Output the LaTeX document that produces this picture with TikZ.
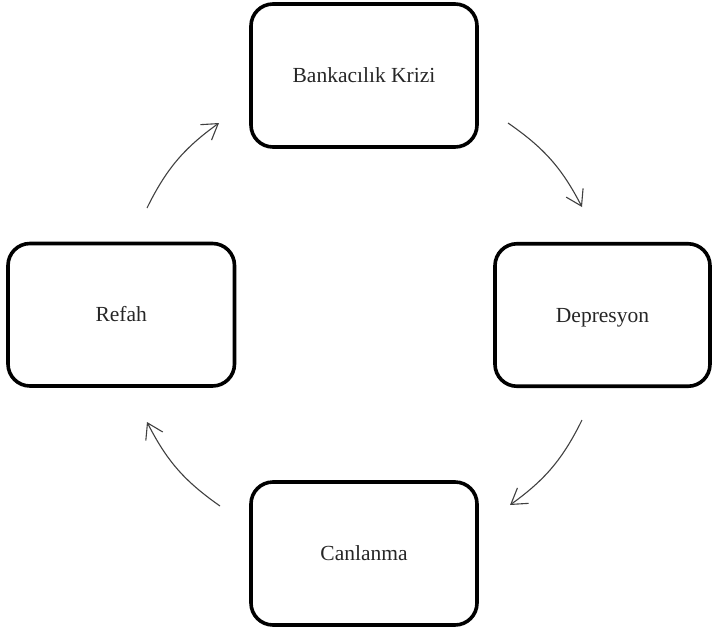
\documentclass[tikz,border=0pt]{standalone}
\usepackage{fontspec}
\setmainfont{Liberation Serif}
\usetikzlibrary{arrows.meta}
\begin{document}
\begin{tikzpicture}[x=1pt,y=1pt,
  stagebox/.style={draw=black, line width=3.6pt, rounded corners=22pt,
    inner sep=0pt, align=center, text height=14pt, text depth=0pt,
    font=\fontsize{21.5}{25}\selectfont, text=black!85},
  cyclearrow/.style={draw=black!75, line width=1.1pt,
    -{Straight Barb[length=15pt,width=19pt,line width=1.1pt]}}]
\useasboundingbox (0,0) rectangle (713,-630);
\node[stagebox, minimum width=226pt, minimum height=143pt] (bank) at (364,-75.5) {Bankacılık Krizi};
\node[stagebox, minimum width=215pt, minimum height=142.5pt] (dep) at (602.5,-315) {Depresyon};
\node[stagebox, minimum width=226pt, minimum height=143pt] (can) at (364,-553.5) {Canlanma};
\node[stagebox, minimum width=226.5pt, minimum height=142.5pt] (ref) at (121.25,-314.75) {Refah};
\coordinate (a1s) at (508,-123);
\coordinate (a1e) at (582,-207);
\coordinate (a2s) at (582,-420);
\coordinate (a2e) at (510,-505);
\coordinate (a3s) at (220,-506);
\coordinate (a3e) at (147,-422);
\coordinate (a4s) at (147,-208);
\coordinate (a4e) at (219,-123);
\draw[cyclearrow] (a1s) to[bend left=14] (a1e);
\draw[cyclearrow] (a2s) to[bend left=14] (a2e);
\draw[cyclearrow] (a3s) to[bend left=14] (a3e);
\draw[cyclearrow] (a4s) to[bend left=14] (a4e);
\end{tikzpicture}
\end{document}
